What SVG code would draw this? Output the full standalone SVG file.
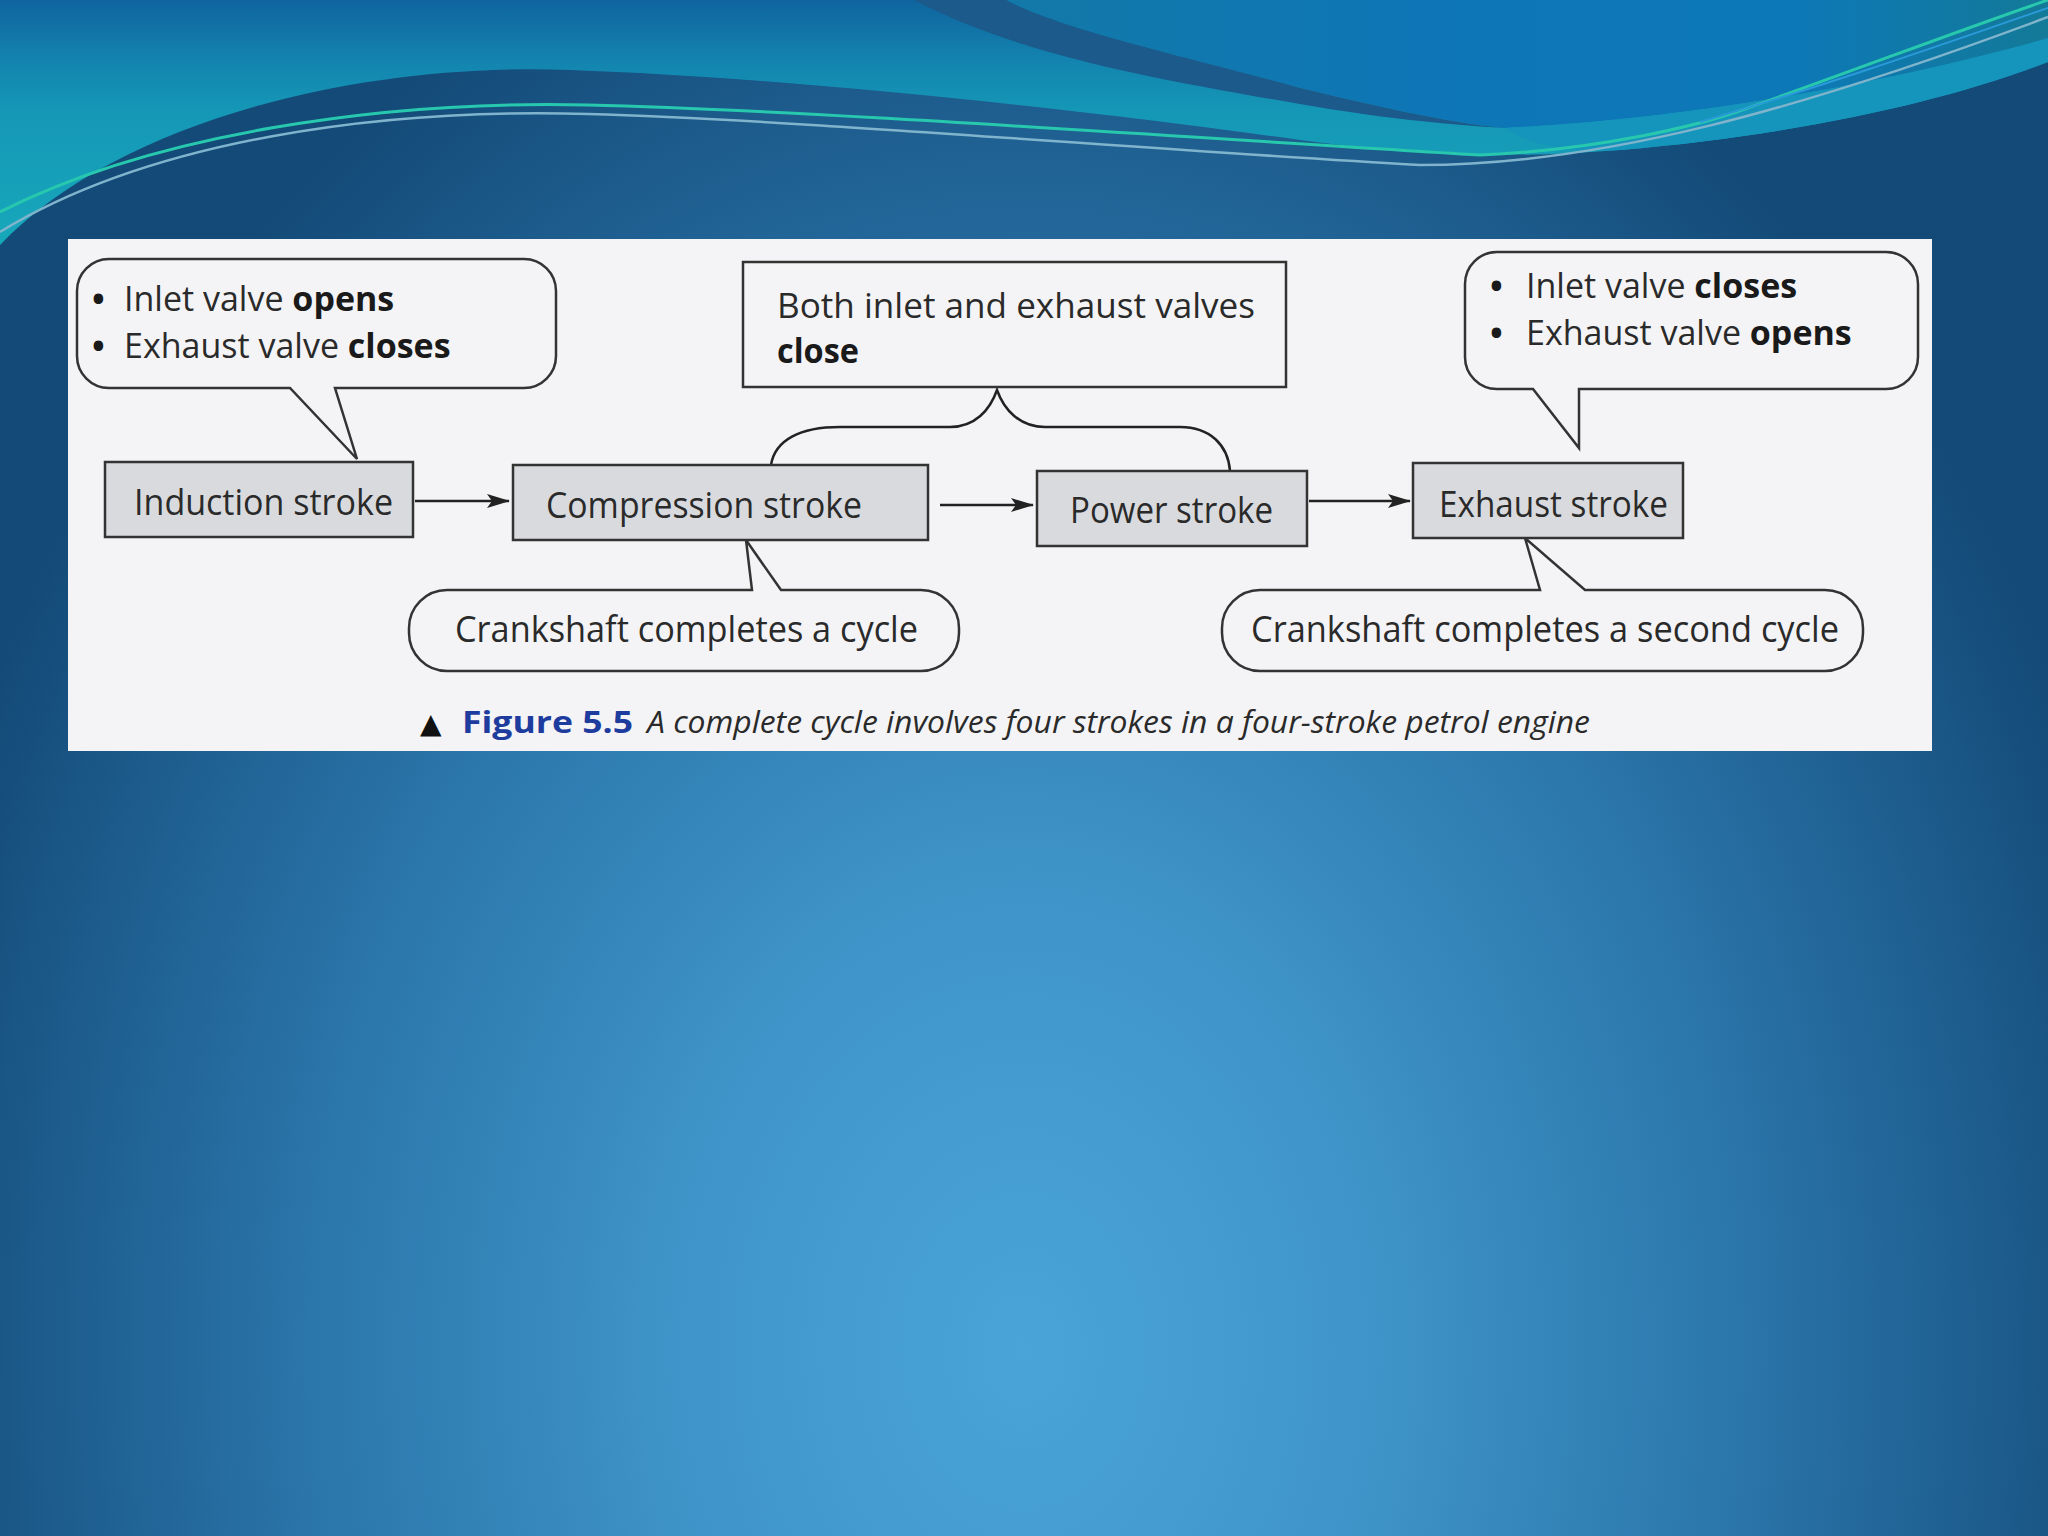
<svg xmlns="http://www.w3.org/2000/svg" width="2048" height="1536" viewBox="0 0 2048 1536">
  <defs>
    <radialGradient id="bg" gradientUnits="userSpaceOnUse" cx="1024" cy="1350" r="1150" gradientTransform="translate(1024 1350) scale(1 1.3) translate(-1024 -1350)">
      <stop offset="0" stop-color="#4aa4d8"/>
      <stop offset="0.3" stop-color="#3f95c9"/>
      <stop offset="0.6" stop-color="#2c78ad"/>
      <stop offset="0.85" stop-color="#1d5c8d"/>
      <stop offset="1" stop-color="#134a78"/>
    </radialGradient>
    <linearGradient id="sky" gradientUnits="userSpaceOnUse" x1="0" y1="0" x2="0" y2="245">
      <stop offset="0" stop-color="#10649f"/>
      <stop offset="0.25" stop-color="#1384af"/>
      <stop offset="0.45" stop-color="#1597b6"/>
      <stop offset="1" stop-color="#17a8bb"/>
    </linearGradient>
    <linearGradient id="skyR" gradientUnits="userSpaceOnUse" x1="1000" y1="0" x2="2048" y2="0">
      <stop offset="0" stop-color="#1379a8"/>
      <stop offset="0.4" stop-color="#0e76b6"/>
      <stop offset="0.75" stop-color="#0d78b8"/>
      <stop offset="1" stop-color="#137a98"/>
    </linearGradient>
    <marker id="arrow" markerUnits="userSpaceOnUse" markerWidth="24" markerHeight="16" refX="22" refY="7" orient="auto">
      <path d="M0,0 L23,7 L0,14 L5,7 Z" fill="#222"/>
    </marker>
    <style>
      .t { font-family: "Open Sans", "Noto Sans", "DejaVu Sans", sans-serif; font-size: 37px; fill: #2a2a2a; }
      .s { font-size: 34px; }
      .b { font-weight: bold; fill: #1a1a1a; }
      .bul { font-weight: bold; fill: #1a1a1a; }
      .box { fill: #d9dade; stroke: #333; stroke-width: 2.5; }
      .note { fill: #f4f4f6; stroke: #333; stroke-width: 2.5; stroke-linejoin: miter; }
      .conn { fill: none; stroke: #222; stroke-width: 2.5; }
      .cap { font-family: "Open Sans", "Noto Sans", "DejaVu Sans", sans-serif; font-size: 31px; }
    </style>
  </defs>

  <!-- background -->
  <rect x="0" y="0" width="2048" height="1536" fill="url(#bg)"/>
  <path d="M0 0 L2048 0 L2048 62 C1950 100 1800 135 1620 150 C1500 160 1400 153 1300 140 C1100 112 800 78 570 70 C360 62 120 120 0 245 Z" fill="url(#sky)"/>
  <path d="M1006 0 C1060 30 1200 60 1300 88 C1400 112 1460 124 1505 128 C1700 118 1900 80 2048 38 L2048 0 Z" fill="url(#skyR)"/>
  <path d="M1505 128 C1700 118 1900 80 2048 38 L2048 62 C1950 100 1800 135 1620 150 C1570 153 1530 145 1505 128 Z" fill="#1594bc"/>
  <path d="M914 0 L1006 0 C1060 30 1200 60 1300 88 C1400 112 1460 124 1505 128 C1440 124 1380 118 1300 104 C1150 78 1020 55 914 0 Z" fill="#1b5a8b"/>
  <path d="M0 212 C150 135 380 100 588 105 C800 110 1150 135 1480 155 C1600 150 1700 125 1742 110 C1850 72 1960 30 2048 0" fill="none" stroke="#27c8ae" stroke-width="3"/>
  <path d="M0 232 C150 140 380 108 588 114 C800 120 1150 150 1420 165 C1600 165 1800 110 2048 17" fill="none" stroke="#7fb4cc" stroke-width="2.5"/>
  <path d="M1700 122 C1850 78 1960 38 2048 8" fill="none" stroke="#2a9ad8" stroke-width="2"/>

  <!-- figure panel -->
  <rect x="68" y="239" width="1864" height="512" fill="#f4f4f6"/>

  <!-- connectors -->
  <g id="connectors">
    <line class="conn" x1="415" y1="501" x2="509" y2="501" marker-end="url(#arrow)"/>
    <line class="conn" x1="940" y1="505" x2="1033" y2="505" marker-end="url(#arrow)"/>
    <line class="conn" x1="1309" y1="501" x2="1410" y2="501" marker-end="url(#arrow)"/>
    <path class="conn" d="M771 465 C775 440 800 427 840 427 L950 427 C975 427 990 410 997 390 C1004 410 1020 427 1045 427 L1180 427 C1210 427 1228 445 1230 471"/>
  </g>

  <!-- callouts -->
  <g id="note-induction">
    <path class="note" d="M109 259 H524 A32 32 0 0 1 556 291 V356 A32 32 0 0 1 524 388 H335 L357 459 L290 388 H109 A32 32 0 0 1 77 356 V291 A32 32 0 0 1 109 259 Z"/>
    <text class="t s" y="311"><tspan class="bul" x="92">•</tspan><tspan x="124">Inlet valve </tspan><tspan class="b">opens</tspan></text>
    <text class="t s" y="358"><tspan class="bul" x="92">•</tspan><tspan x="124">Exhaust valve </tspan><tspan class="b">closes</tspan></text>
  </g>

  <g id="note-both-close">
    <rect class="note" x="743" y="262" width="543" height="125"/>
    <text class="t s" x="777" y="318" textLength="478" lengthAdjust="spacingAndGlyphs">Both inlet and exhaust valves</text>
    <text class="t s b" x="777" y="363" textLength="82" lengthAdjust="spacingAndGlyphs">close</text>
  </g>

  <g id="note-exhaust">
    <path class="note" d="M1497 252 H1886 A32 32 0 0 1 1918 284 V357 A32 32 0 0 1 1886 389 H1579 V448 L1533 389 H1497 A32 32 0 0 1 1465 357 V284 A32 32 0 0 1 1497 252 Z"/>
    <text class="t s" y="298"><tspan class="bul" x="1490">•</tspan><tspan x="1526">Inlet valve </tspan><tspan class="b">closes</tspan></text>
    <text class="t s" y="345"><tspan class="bul" x="1490">•</tspan><tspan x="1526">Exhaust valve </tspan><tspan class="b">opens</tspan></text>
  </g>

  <g id="note-crank1">
    <path class="note" d="M447 590 H752 L746 540 L781 590 H921 A38 38 0 0 1 959 628 V633 A38 38 0 0 1 921 671 H447 A38 38 0 0 1 409 633 V628 A38 38 0 0 1 447 590 Z"/>
    <text class="t" x="455" y="642" textLength="463" lengthAdjust="spacingAndGlyphs">Crankshaft completes a cycle</text>
  </g>

  <g id="note-crank2">
    <path class="note" d="M1260 590 H1540 L1525 538 L1585 590 H1825 A38 38 0 0 1 1863 628 V633 A38 38 0 0 1 1825 671 H1260 A38 38 0 0 1 1222 633 V628 A38 38 0 0 1 1260 590 Z"/>
    <text class="t" x="1251" y="642" textLength="588" lengthAdjust="spacingAndGlyphs">Crankshaft completes a second cycle</text>
  </g>

  <!-- stroke nodes -->
  <g id="node-induction">
    <rect class="box" x="105" y="462" width="308" height="75"/>
    <text class="t" x="134" y="515" textLength="259" lengthAdjust="spacingAndGlyphs">Induction stroke</text>
  </g>
  <g id="node-compression">
    <rect class="box" x="513" y="465" width="415" height="75"/>
    <text class="t" x="546" y="518" textLength="316" lengthAdjust="spacingAndGlyphs">Compression stroke</text>
  </g>
  <g id="node-power">
    <rect class="box" x="1037" y="471" width="270" height="75"/>
    <text class="t" x="1070" y="523" textLength="203" lengthAdjust="spacingAndGlyphs">Power stroke</text>
  </g>
  <g id="node-exhaust">
    <rect class="box" x="1413" y="463" width="270" height="75"/>
    <text class="t" x="1439" y="517" textLength="229" lengthAdjust="spacingAndGlyphs">Exhaust stroke</text>
  </g>

  <!-- caption -->
  <g id="caption">
    <text x="420" y="733" font-family="DejaVu Sans, sans-serif" font-size="28" fill="#111">▲</text>
    <text class="cap" x="462" y="733" font-weight="bold" fill="#1e3c9e" textLength="171" lengthAdjust="spacingAndGlyphs">Figure 5.5</text>
    <text class="cap" x="647" y="733" font-style="italic" fill="#2a2a2a" textLength="943" lengthAdjust="spacingAndGlyphs">A complete cycle involves four strokes in a four-stroke petrol engine</text>
  </g>
</svg>
